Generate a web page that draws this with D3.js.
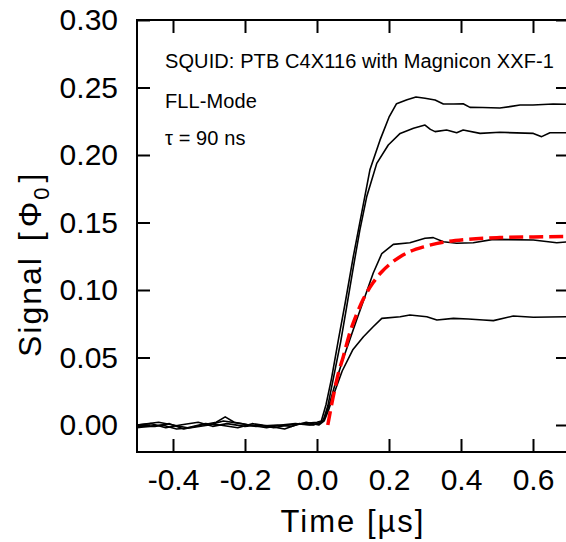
<!DOCTYPE html>
<html>
<head>
<meta charset="utf-8">
<script src="https://cdn.jsdelivr.net/npm/d3@7"></script>
<style>
  body { margin: 0; background: #fff; }
  svg { display: block; font-family: "Liberation Sans", Arial, sans-serif; }
</style>
</head>
<body>
<div id="chart"></div>
<script>
// step responses, [time in us, signal in Phi0]
var curveA = [[-0.5,0.0],[-0.46,0.001],[-0.42,-0.002],[-0.38,0.0],[-0.33,0.002],[-0.29,-0.001],[-0.25,0.001],
  [-0.2,-0.001],[-0.16,0.0],[-0.12,-0.002],[-0.08,0.0],[-0.04,0.001],[0.0,0.002],[0.012,0.003],[0.025,0.015],
  [0.04,0.034],[0.06,0.064],[0.078,0.09],[0.101,0.125],[0.124,0.157],[0.147,0.189],[0.175,0.211],[0.2,0.228],
  [0.221,0.238],[0.25,0.241],[0.275,0.243],[0.3,0.242],[0.328,0.2407],[0.351,0.2378],[0.38,0.2378],[0.406,0.238],
  [0.425,0.2353],[0.46,0.2352],[0.508,0.2348],[0.54,0.236],[0.564,0.237],[0.6,0.237],[0.656,0.2378],[0.7,0.2375]];
var curveB = [[-0.5,-0.001],[-0.45,-0.001],[-0.41,0.001],[-0.37,-0.003],[-0.32,0.0],[-0.28,0.002],[-0.255,0.006],
  [-0.23,0.002],[-0.19,0.0],[-0.14,-0.002],[-0.1,0.0],[-0.06,0.001],[-0.02,0.0],[0.005,0.001],[0.018,0.004],
  [0.03,0.014],[0.045,0.034],[0.066,0.062],[0.0825,0.0877],[0.101,0.117],[0.119,0.1444],[0.138,0.169],
  [0.166,0.1938],[0.198,0.2074],[0.231,0.216],[0.268,0.2198],[0.3,0.2222],[0.315,0.219],[0.328,0.2173],
  [0.36,0.2185],[0.388,0.2165],[0.406,0.2185],[0.453,0.216],[0.508,0.2168],[0.601,0.216],[0.624,0.2136],
  [0.647,0.2165],[0.7,0.2165]];
var curveC = [[-0.5,0.0],[-0.44,0.002],[-0.4,0.0],[-0.36,-0.002],[-0.31,0.001],[-0.27,0.0],[-0.22,-0.002],
  [-0.18,0.001],[-0.13,-0.001],[-0.09,-0.003],[-0.05,0.001],[-0.01,0.0],[0.01,0.002],[0.02,0.004],[0.035,0.016],
  [0.05,0.03],[0.07,0.047],[0.087,0.06],[0.11,0.0778],[0.133,0.095],[0.156,0.1124],[0.18,0.127],[0.212,0.1338],
  [0.258,0.135],[0.3,0.1383],[0.323,0.1388],[0.351,0.1358],[0.388,0.1346],[0.434,0.135],[0.49,0.1375],
  [0.601,0.137],[0.666,0.135],[0.7,0.1358]];
var curveD = [[-0.5,-0.002],[-0.47,-0.001],[-0.43,0.0],[-0.39,-0.003],[-0.35,-0.002],[-0.3,0.0],[-0.26,0.003],
  [-0.21,0.001],[-0.17,-0.001],[-0.11,0.0],[-0.07,-0.001],[-0.03,0.002],[0.005,0.0],[0.02,0.003],[0.032,0.011],
  [0.044,0.021],[0.07,0.04],[0.1,0.056],[0.129,0.0654],[0.156,0.0728],[0.18,0.079],[0.231,0.0802],[0.258,0.0815],
  [0.305,0.0802],[0.333,0.0778],[0.379,0.079],[0.42,0.0785],[0.462,0.0778],[0.49,0.0773],[0.545,0.0807],
  [0.601,0.0798],[0.7,0.0802]];
// fitted response, tau = 90 ns
var fitCurve = [[0.03,0.0],[0.045,0.021],[0.06,0.039],[0.073,0.0506],[0.092,0.069],[0.11,0.082],[0.129,0.0935],
  [0.156,0.1055],[0.18,0.1135],[0.203,0.1193],[0.23,0.1245],[0.258,0.1285],[0.3,0.1323],[0.35,0.1354],
  [0.416,0.1375],[0.508,0.1388],[0.601,0.1393],[0.7,0.1396]];

var xTicks = [-0.4, -0.2, 0.0, 0.2, 0.4, 0.6];
var xTickLabels = ["-0.4", "-0.2", "0.0", "0.2", "0.4", "0.6"];
var yTicks = [0.0, 0.05, 0.10, 0.15, 0.20, 0.25, 0.30];
var yTickLabels = ["0.00", "0.05", "0.10", "0.15", "0.20", "0.25", "0.30"];
var notes = ["SQUID: PTB C4X116 with Magnicon XXF-1", "FLL-Mode", "\u03C4 = 90 ns"];

var W = 566, H = 542;
var mLeft = 137, mTop = 20, mRight = 569, mBottom = 452;

var svg = d3.select("#chart").append("svg")
    .attr("width", W)
    .attr("height", H);

var x = d3.scaleLinear().domain([-0.5, 0.7]).range([mLeft, mRight]);
var y = d3.scaleLinear().domain([-0.02, 0.30]).range([mBottom, mTop]);

// curves
var line = d3.line()
    .x(function(d) { return x(d[0]); })
    .y(function(d) { return y(d[1]); });

svg.selectAll("path.trace")
    .data([curveA, curveB, curveC, curveD])
    .enter().append("path")
    .attr("class", "trace")
    .attr("d", line)
    .attr("fill", "none")
    .attr("stroke", "#000")
    .attr("stroke-width", 1.6)
    .attr("stroke-linejoin", "round");

svg.append("path")
    .attr("d", line.curve(d3.curveMonotoneX)(fitCurve))
    .attr("fill", "none")
    .attr("stroke", "#ff0000")
    .attr("stroke-width", 3.5)
    .attr("stroke-dasharray", "14,6");

// axes, ticks pointing inside
var xb = svg.append("g")
    .attr("transform", "translate(0," + mBottom + ")")
    .call(d3.axisBottom(x).tickValues(xTicks).tickSize(-13).tickPadding(17)
        .tickFormat(function(d, i) { return xTickLabels[i]; }));
var xt = svg.append("g")
    .attr("transform", "translate(0," + mTop + ")")
    .call(d3.axisTop(x).tickValues(xTicks).tickSize(-13).tickFormat(""));
var yl = svg.append("g")
    .attr("transform", "translate(" + mLeft + ",0)")
    .call(d3.axisLeft(y).tickValues(yTicks).tickSize(-13).tickPadding(19)
        .tickFormat(function(d, i) { return yTickLabels[i]; }));
var yr = svg.append("g")
    .attr("transform", "translate(" + mRight + ",0)")
    .call(d3.axisRight(y).tickValues(yTicks).tickSize(-13).tickFormat(""));

[xb, xt, yl, yr].forEach(function(g) {
  g.select(".domain").remove();
  g.selectAll(".tick line").attr("stroke", "#000").attr("stroke-width", 2);
  g.selectAll(".tick text")
    .attr("fill", "#000")
    .style("font-size", "30px")
    .style("font-family", "'Liberation Sans', Arial, sans-serif");
});

svg.append("rect")
    .attr("x", mLeft).attr("y", mTop)
    .attr("width", mRight - mLeft).attr("height", mBottom - mTop)
    .attr("fill", "none")
    .attr("stroke", "#000")
    .attr("stroke-width", 2);

// axis titles
svg.append("text")
    .attr("x", 353).attr("y", 532)
    .attr("text-anchor", "middle")
    .style("font-size", "31px")
    .style("letter-spacing", "2px")
    .text("Time [\u00B5s]");

var yt = svg.append("text")
    .attr("transform", "translate(41,357) rotate(-90)")
    .attr("text-anchor", "start")
    .style("font-size", "32px")
    .style("letter-spacing", "2px");
yt.append("tspan").text("Signal ");
yt.append("tspan").attr("dx", 4).text("[");
yt.append("tspan").attr("dx", 3).text("\u03A6");
yt.append("tspan").attr("dy", 8).style("font-size", "22px").text("0");
yt.append("tspan").attr("dy", -8).attr("dx", 3).text("]");

// annotations
svg.selectAll("text.note")
    .data(notes)
    .enter().append("text")
    .attr("class", "note")
    .attr("x", 165)
    .attr("y", function(d, i) { return [68, 108, 145][i]; })
    .style("font-size", "20px")
    .style("letter-spacing", "0.1px")
    .text(function(d) { return d; });
</script>
</body>
</html>
